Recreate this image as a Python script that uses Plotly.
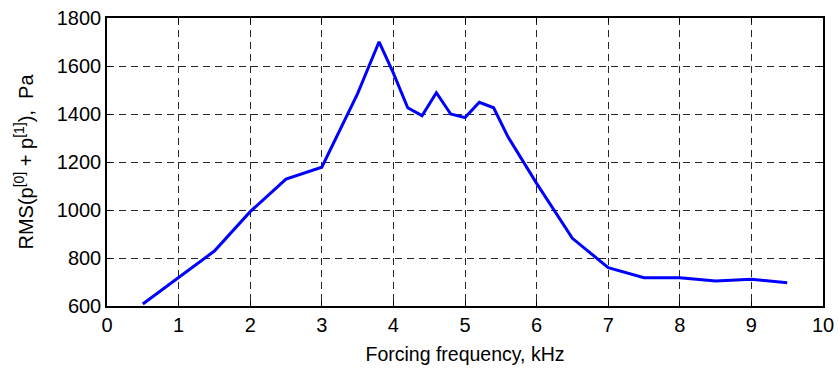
import plotly.graph_objects as go

# Forcing frequency (kHz) and RMS pressure (Pa)
freq_khz = [0.5, 1.0, 1.5, 2.0, 2.5, 3.0, 3.5, 3.8, 4.0, 4.2, 4.4, 4.6, 4.8, 5.0,
            5.2, 5.4, 5.6, 6.0, 6.5, 7.0, 7.5, 8.0, 8.5, 9.0, 9.5]
rms_pa = [608, 718, 829, 993, 1129, 1178, 1485, 1701, 1570, 1426, 1393, 1489, 1400, 1385,
          1449, 1426, 1305, 1111, 882, 760, 718, 718, 704, 711, 697]

x_ticks = list(range(0, 11))
y_ticks = list(range(600, 1801, 200))

font_family = "Liberation Sans, Arial, sans-serif"

fig = go.Figure(
    go.Scatter(
        x=freq_khz,
        y=rms_pa,
        mode="lines",
        line=dict(color="#0000ff", width=3),
        showlegend=False,
    )
)

axis_common = dict(
    showline=True,
    linecolor="black",
    linewidth=1.5,
    mirror="ticks",
    ticks="inside",
    ticklen=5,
    tickcolor="black",
    showgrid=True,
    gridcolor="rgba(0,0,0,0.85)",
    gridwidth=1,
    griddash="7px,5px",
    zeroline=False,
    automargin=False,
    tickfont=dict(family=font_family, size=20, color="black"),
)

fig.update_xaxes(
    range=[0, 10],
    tickvals=x_ticks,
    ticktext=[str(v) for v in x_ticks],
    title=dict(text="Forcing frequency, kHz",
               font=dict(family=font_family, size=19.5, color="black"),
               standoff=13),
    **axis_common,
)
fig.update_yaxes(
    range=[600, 1800],
    tickvals=y_ticks,
    ticktext=[str(v) for v in y_ticks],
    title=dict(text="RMS(p<sup>[0]</sup> + p<sup>[1]</sup>),  Pa",
               font=dict(family=font_family, size=20, color="black"),
               standoff=18),
    **axis_common,
)

fig.update_layout(
    width=838,
    height=372,
    margin=dict(l=107, r=15, t=18, b=66),
    paper_bgcolor="white",
    plot_bgcolor="white",
)

fig.write_html("out.html")
